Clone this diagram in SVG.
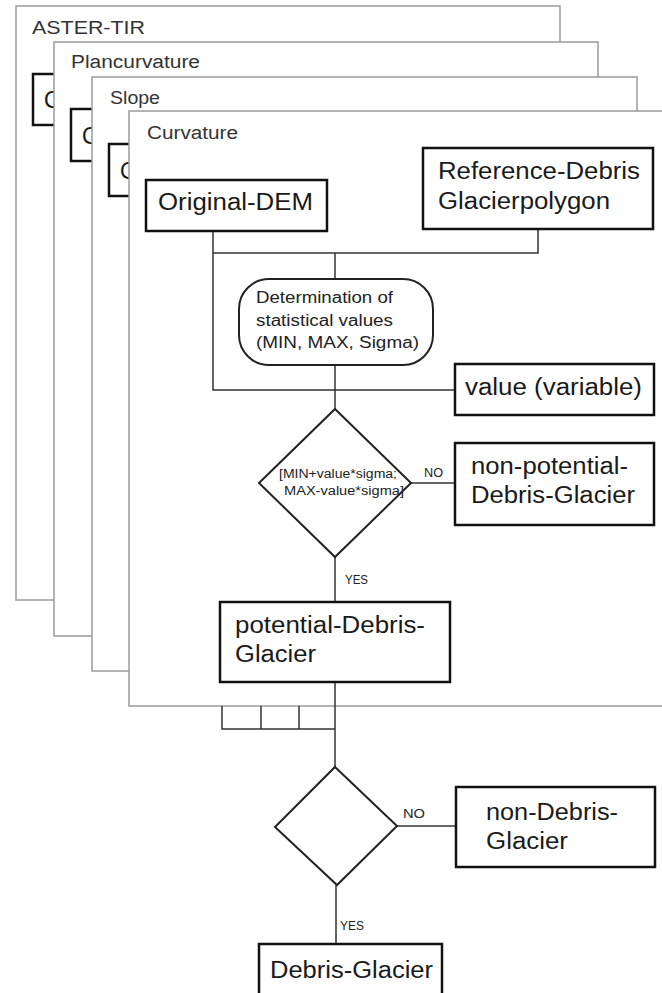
<svg xmlns="http://www.w3.org/2000/svg" width="662" height="993" viewBox="0 0 662 993">
<style>
.panel{fill:#fff;stroke:#9a9a9a;stroke-width:1.5}
.plabel{font-family:"Liberation Sans",Arial,sans-serif;font-size:18px;fill:#333}
.box{fill:#fff;stroke:#111;stroke-width:2.5}
.shape{fill:#fff;stroke:#222;stroke-width:2}
.big{font-family:"Liberation Sans",Arial,sans-serif;font-size:23px;fill:#1a1a1a}
.mid{font-family:"Liberation Sans",Arial,sans-serif;font-size:16px;fill:#222}
.small{font-family:"Liberation Sans",Arial,sans-serif;font-size:12.5px;fill:#222}
.conn{fill:none;stroke:#333;stroke-width:1.5}
</style>
<defs>
<clipPath id="c1"><rect x="0" y="0" width="54" height="993"/></clipPath>
<clipPath id="c2"><rect x="0" y="0" width="92" height="993"/></clipPath>
<clipPath id="c3"><rect x="0" y="0" width="129" height="993"/></clipPath>
</defs>
<rect x="0" y="0" width="662" height="993" fill="#fff"/>

<g id="panel-aster-tir">
<rect class="panel" x="16" y="6" width="544" height="594"/>
<text class="plabel" x="32" y="34" font-size="19" textLength="113" lengthAdjust="spacingAndGlyphs">ASTER-TIR</text>
<g clip-path="url(#c1)">
<rect class="box" x="33" y="74" width="181" height="51"/>
<text class="big" x="44" y="108">O</text>
</g>
</g>

<g id="panel-plancurvature">
<rect class="panel" x="54" y="42" width="544" height="594"/>
<text class="plabel" x="71" y="68" textLength="129" lengthAdjust="spacingAndGlyphs">Plancurvature</text>
<g clip-path="url(#c2)">
<rect class="box" x="71" y="109" width="181" height="52"/>
<text class="big" x="82" y="144">O</text>
</g>
</g>

<g id="panel-slope">
<rect class="panel" x="92" y="77" width="545" height="594"/>
<text class="plabel" x="110" y="104" textLength="50" lengthAdjust="spacingAndGlyphs">Slope</text>
<g clip-path="url(#c3)">
<rect class="box" x="109" y="144" width="181" height="52"/>
<text class="big" x="120" y="179">O</text>
</g>
</g>

<g id="panel-curvature">
<rect class="panel" x="129" y="111" width="560" height="595"/>
<text class="plabel" x="147" y="139" textLength="91" lengthAdjust="spacingAndGlyphs">Curvature</text>
</g>

<g id="connectors">
<path class="conn" d="M213 231 V390 H455"/>
<path class="conn" d="M213 253 H538 V229"/>
<path class="conn" d="M335 253 V279"/>
<path class="conn" d="M335 365 V409"/>
<path class="conn" d="M411 483 H455"/>
<path class="conn" d="M335 557 V602"/>
<path class="conn" d="M335 682 V767"/>
<path class="conn" d="M222 706 V729 H335 M261 706 V729 M299 706 V729"/>
<path class="conn" d="M397 826 H456"/>
<path class="conn" d="M336 885 V944"/>
<text class="small" x="424" y="477" textLength="19" lengthAdjust="spacingAndGlyphs">NO</text>
<text class="small" x="345" y="584" textLength="23" lengthAdjust="spacingAndGlyphs">YES</text>
<text class="small" x="403" y="818" textLength="22" lengthAdjust="spacingAndGlyphs">NO</text>
<text class="small" x="340" y="930" textLength="24" lengthAdjust="spacingAndGlyphs">YES</text>
</g>

<g id="original-dem">
<rect class="box" x="146" y="180" width="181" height="51"/>
<text class="big" x="158" y="210" textLength="155" lengthAdjust="spacingAndGlyphs">Original-DEM</text>
</g>

<g id="reference-polygon">
<rect class="box" x="423" y="148" width="230" height="81"/>
<text class="big" x="438" y="179" textLength="202" lengthAdjust="spacingAndGlyphs">Reference-Debris</text>
<text class="big" x="438" y="209" textLength="172" lengthAdjust="spacingAndGlyphs">Glacierpolygon</text>
</g>

<g id="statistics">
<rect class="shape" x="239" y="279" width="194" height="86" rx="30" ry="30"/>
<text class="mid" x="256" y="303" textLength="137" lengthAdjust="spacingAndGlyphs">Determination of</text>
<text class="mid" x="256" y="326" textLength="137" lengthAdjust="spacingAndGlyphs">statistical values</text>
<text class="mid" x="256" y="348" textLength="163" lengthAdjust="spacingAndGlyphs">(MIN, MAX, Sigma)</text>
</g>

<g id="value-variable">
<rect class="box" x="455" y="364" width="199" height="51"/>
<text class="big" x="465" y="395" textLength="177" lengthAdjust="spacingAndGlyphs">value (variable)</text>
</g>

<g id="decision-1">
<polygon class="shape" points="335,409 411,483 335,557 259,483"/>
<text class="small" x="279" y="478" textLength="118" lengthAdjust="spacingAndGlyphs">[MIN+value*sigma;</text>
<text class="small" x="284" y="495" textLength="120" lengthAdjust="spacingAndGlyphs">MAX-value*sigma]</text>
</g>

<g id="non-potential">
<rect class="box" x="455" y="443" width="199" height="82"/>
<text class="big" x="471" y="474" textLength="157" lengthAdjust="spacingAndGlyphs">non-potential-</text>
<text class="big" x="471" y="503" textLength="164" lengthAdjust="spacingAndGlyphs">Debris-Glacier</text>
</g>

<g id="potential">
<rect class="box" x="220" y="602" width="230" height="80"/>
<text class="big" x="235" y="633" textLength="190" lengthAdjust="spacingAndGlyphs">potential-Debris-</text>
<text class="big" x="235" y="662" textLength="81" lengthAdjust="spacingAndGlyphs">Glacier</text>
</g>

<g id="decision-2">
<polygon class="shape" points="335,767 397,826 337,885 275,827"/>
</g>

<g id="non-debris">
<rect class="box" x="456" y="787" width="199" height="80"/>
<text class="big" x="486" y="820" textLength="132" lengthAdjust="spacingAndGlyphs">non-Debris-</text>
<text class="big" x="486" y="849" textLength="82" lengthAdjust="spacingAndGlyphs">Glacier</text>
</g>

<g id="debris-glacier">
<rect class="box" x="259" y="944" width="183" height="70"/>
<text class="big" x="270" y="978" textLength="163" lengthAdjust="spacingAndGlyphs">Debris-Glacier</text>
</g>
</svg>
